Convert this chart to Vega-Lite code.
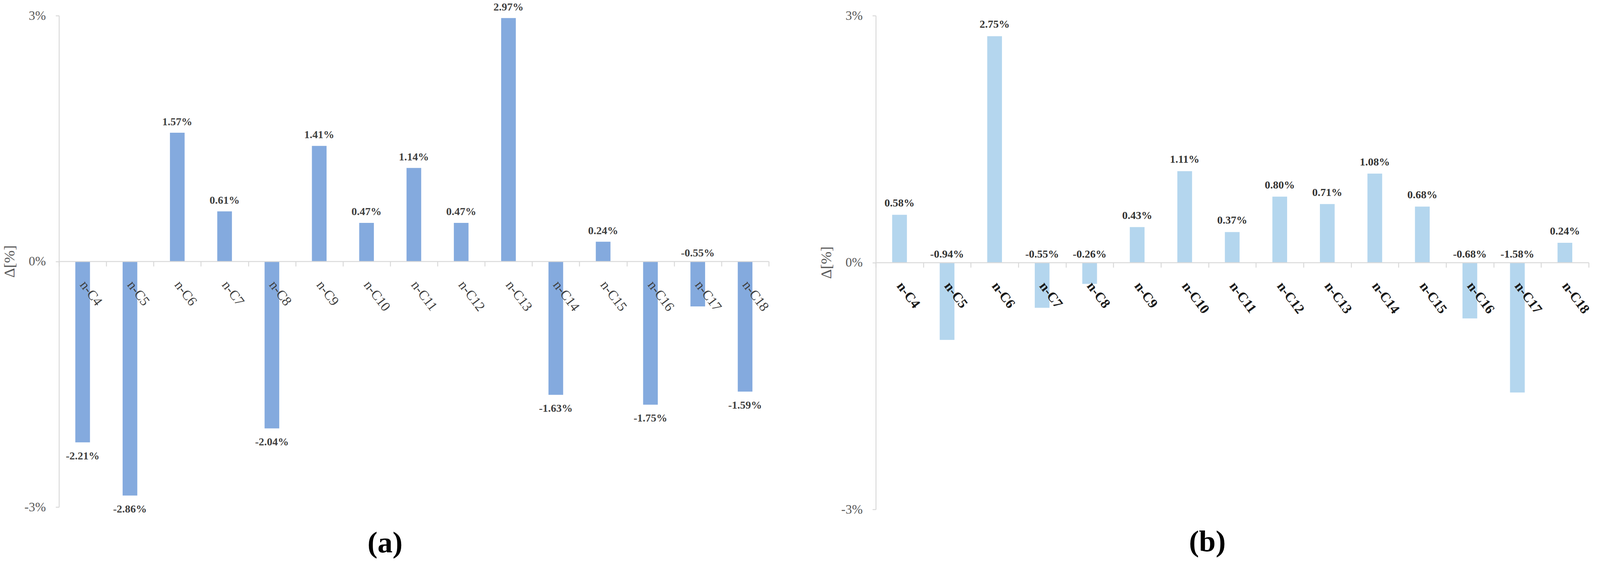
{
  "$schema": "https://vega.github.io/schema/vega-lite/v6.json",
  "background": "white",
  "padding": {"left": 5, "top": 4, "right": 0, "bottom": 0},
  "config": {
    "font": "Liberation Serif",
    "view": {"stroke": null}
  },
  "datasets": {
    "a": [
      {"alkane": "n-C4", "value": -2.21},
      {"alkane": "n-C5", "value": -2.86},
      {"alkane": "n-C6", "value": 1.57},
      {"alkane": "n-C7", "value": 0.61},
      {"alkane": "n-C8", "value": -2.04},
      {"alkane": "n-C9", "value": 1.41},
      {"alkane": "n-C10", "value": 0.47},
      {"alkane": "n-C11", "value": 1.14},
      {"alkane": "n-C12", "value": 0.47},
      {"alkane": "n-C13", "value": 2.97},
      {"alkane": "n-C14", "value": -1.63},
      {"alkane": "n-C15", "value": 0.24},
      {"alkane": "n-C16", "value": -1.75},
      {"alkane": "n-C17", "value": -0.55},
      {"alkane": "n-C18", "value": -1.59}
    ],
    "b": [
      {"alkane": "n-C4", "value": 0.58},
      {"alkane": "n-C5", "value": -0.94},
      {"alkane": "n-C6", "value": 2.75},
      {"alkane": "n-C7", "value": -0.55},
      {"alkane": "n-C8", "value": -0.26},
      {"alkane": "n-C9", "value": 0.43},
      {"alkane": "n-C10", "value": 1.11},
      {"alkane": "n-C11", "value": 0.37},
      {"alkane": "n-C12", "value": 0.80},
      {"alkane": "n-C13", "value": 0.71},
      {"alkane": "n-C14", "value": 1.08},
      {"alkane": "n-C15", "value": 0.68},
      {"alkane": "n-C16", "value": -0.68},
      {"alkane": "n-C17", "value": -1.58},
      {"alkane": "n-C18", "value": 0.24}
    ]
  },
  "spacing": 122,
  "hconcat": [
    {
      "width": 1817,
      "height": 1259,
      "data": {"name": "a"},
      "transform": [
        {"calculate": "(datum.value < 0 ? '-' : '') + format(abs(datum.value), '.2f') + '%'", "as": "label"}
      ],
      "title": {
        "text": "(a)",
        "orient": "bottom",
        "frame": "bounds",
        "anchor": "middle",
        "offset": 35,
        "dx": -4,
        "fontSize": 77,
        "fontWeight": "bold",
        "color": "black"
      },
      "encoding": {
        "x": {
          "field": "alkane",
          "type": "nominal",
          "sort": null,
          "scale": {"paddingInner": 0, "paddingOuter": 0},
          "axis": {
            "title": null,
            "orient": "bottom",
            "offset": -629.5,
            "zindex": 1,
            "labelAngle": 53,
            "labelAlign": "left",
            "labelBaseline": "middle",
            "labelPadding": 40.7,
            "labelFontSize": 35,
            "labelColor": "#404040",
            "labelOverlap": false,
            "labelBound": false,
            "labelFlush": false,
            "tickBand": "extent",
            "tickSize": 12.6,
            "tickWidth": 2.4,
            "tickColor": "#D9D9D9",
            "domainColor": "#D9D9D9",
            "domainWidth": 2.4
          }
        },
        "y": {
          "field": "value",
          "type": "quantitative",
          "scale": {"domain": [-3, 3], "nice": false},
          "axis": {
            "title": "Δ[%]",
            "values": [-3, 0, 3],
            "labelExpr": "datum.value + '%'",
            "grid": false,
            "tickSize": 8.7,
            "tickWidth": 2.4,
            "tickColor": "#D9D9D9",
            "domainColor": "#D9D9D9",
            "domainWidth": 2.4,
            "labelPadding": 25.2,
            "labelFontSize": 33,
            "labelColor": "#595959",
            "titleFontSize": 38.8,
            "titleFontWeight": "normal",
            "titleColor": "#595959",
            "titlePadding": 17.4
          }
        }
      },
      "layer": [
        {"mark": {"type": "bar", "width": {"band": 0.31}, "color": "#84AADE"}},
        {
          "transform": [{"filter": "datum.value >= 0"}],
          "mark": {"type": "text", "dy": -19.4, "baseline": "alphabetic", "fontSize": 28, "fontWeight": "bold", "color": "#404040"},
          "encoding": {"text": {"field": "label"}}
        },
        {
          "transform": [{"filter": "datum.value < -1"}],
          "mark": {"type": "text", "dy": 43.6, "baseline": "alphabetic", "fontSize": 28, "fontWeight": "bold", "color": "#404040"},
          "encoding": {"text": {"field": "label"}}
        },
        {
          "transform": [{"filter": "datum.value < 0 && datum.value >= -1"}],
          "mark": {"type": "text", "dy": -12.6, "baseline": "alphabetic", "fontSize": 28, "fontWeight": "bold", "color": "#404040"},
          "encoding": {"y": {"datum": 0}, "text": {"field": "label"}}
        }
      ]
    },
    {
      "width": 1825,
      "height": 1265,
      "data": {"name": "b"},
      "transform": [
        {"calculate": "(datum.value < 0 ? '-' : '') + format(abs(datum.value), '.2f') + '%'", "as": "label"}
      ],
      "title": {
        "text": "(b)",
        "orient": "bottom",
        "frame": "bounds",
        "anchor": "middle",
        "offset": 29,
        "dx": 5,
        "fontSize": 77,
        "fontWeight": "bold",
        "color": "black"
      },
      "encoding": {
        "x": {
          "field": "alkane",
          "type": "nominal",
          "sort": null,
          "scale": {"paddingInner": 0, "paddingOuter": 0},
          "axis": {
            "title": null,
            "orient": "bottom",
            "offset": -632.5,
            "zindex": 1,
            "labelAngle": 53,
            "labelAlign": "left",
            "labelBaseline": "middle",
            "labelPadding": 40.7,
            "labelFontSize": 35,
            "labelFontWeight": "bold",
            "labelColor": "#1a1a1a",
            "labelOverlap": false,
            "labelBound": false,
            "labelFlush": false,
            "tickBand": "extent",
            "tickSize": 12.6,
            "tickWidth": 2.4,
            "tickColor": "#D9D9D9",
            "domainColor": "#D9D9D9",
            "domainWidth": 2.4
          }
        },
        "y": {
          "field": "value",
          "type": "quantitative",
          "scale": {"domain": [-3, 3], "nice": false},
          "axis": {
            "title": "Δ[%]",
            "values": [-3, 0, 3],
            "labelExpr": "datum.value + '%'",
            "grid": false,
            "tickSize": 8.7,
            "tickWidth": 2.4,
            "tickColor": "#D9D9D9",
            "domainColor": "#D9D9D9",
            "domainWidth": 2.4,
            "labelPadding": 25.2,
            "labelFontSize": 33,
            "labelColor": "#595959",
            "titleFontSize": 38.8,
            "titleFontWeight": "normal",
            "titleColor": "#595959",
            "titlePadding": 17.4
          }
        }
      },
      "layer": [
        {"mark": {"type": "bar", "width": {"band": 0.31}, "color": "#B4D6EE"}},
        {
          "transform": [{"filter": "datum.value >= 0"}],
          "mark": {"type": "text", "dy": -21.3, "baseline": "alphabetic", "fontSize": 28, "fontWeight": "bold", "color": "#333333"},
          "encoding": {"text": {"field": "label"}}
        },
        {
          "transform": [{"filter": "datum.value < 0"}],
          "mark": {"type": "text", "dy": -12.6, "baseline": "alphabetic", "fontSize": 28, "fontWeight": "bold", "color": "#333333"},
          "encoding": {"y": {"datum": 0}, "text": {"field": "label"}}
        }
      ]
    }
  ]
}
